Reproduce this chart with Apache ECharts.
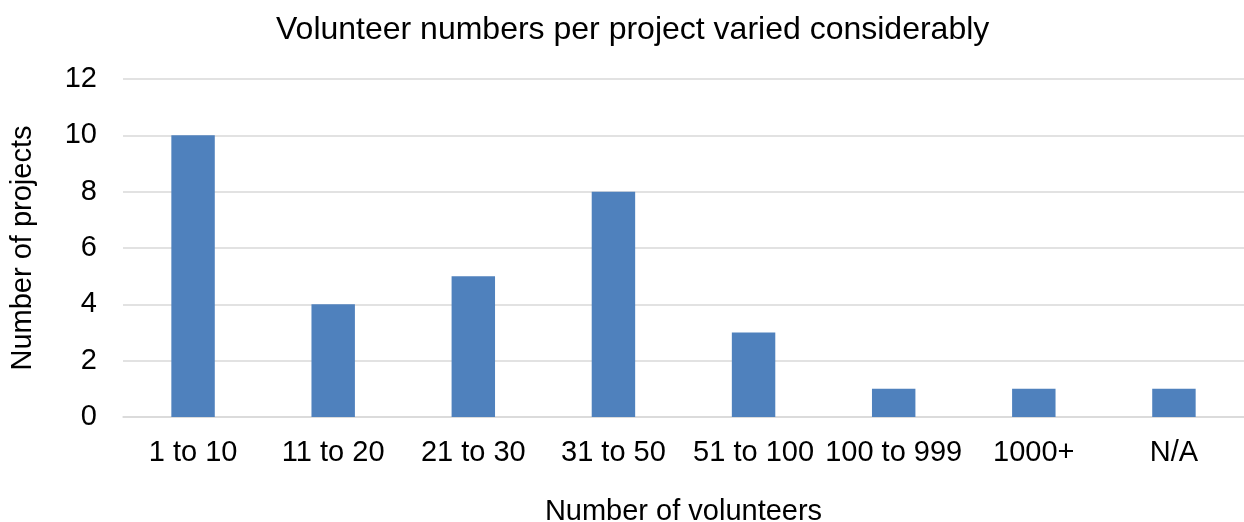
<!DOCTYPE html>
<html>
<head>
<meta charset="utf-8">
<script src="https://cdn.jsdelivr.net/npm/echarts@6/dist/echarts.min.js"></script>
<style>
  html, body { margin: 0; padding: 0; background: #fff; }
  #chart { width: 1244px; height: 522px; }
</style>
</head>
<body>
<div id="chart"></div>
<script>
const categories = ['1 to 10', '11 to 20', '21 to 30', '31 to 50', '51 to 100', '100 to 999', '1000+', 'N/A']
const projects = [10, 4, 5, 8, 3, 1, 1, 1]
const yTicks = [0, 2, 4, 6, 8, 10, 12]

const font = 'Liberation Sans, Arial, sans-serif'
const chart = echarts.init(document.getElementById('chart'))

chart.setOption({
  animation: false,
  title: {
    text: 'Volunteer numbers per project varied considerably',
    left: 276,
    top: 14,
    padding: 0,
    textStyle: { fontFamily: font, fontSize: 32, fontWeight: 'normal', color: '#000' }
  },
  grid: { left: 123, right: 0, top: 79, bottom: 105, outerBoundsMode: 'none' },
  xAxis: {
    type: 'category',
    data: categories,
    name: 'Number of volunteers',
    nameLocation: 'middle',
    nameGap: 80,
    nameTextStyle: { fontFamily: font, fontSize: 29, color: '#000' },
    axisLine: { lineStyle: { color: '#d9d9d9', width: 1.5 } },
    axisTick: { show: false },
    axisLabel: { fontFamily: font, fontSize: 29, color: '#000', margin: 21, interval: 0 }
  },
  yAxis: {
    type: 'value',
    min: yTicks[0],
    max: yTicks[yTicks.length - 1],
    interval: 2,
    name: 'Number of projects',
    nameLocation: 'middle',
    nameGap: 86,
    nameTextStyle: { fontFamily: font, fontSize: 29, color: '#000' },
    axisLine: { show: false },
    axisTick: { show: false },
    splitLine: { lineStyle: { color: '#d9d9d9', width: 1.5 } },
    axisLabel: { fontFamily: font, fontSize: 29, color: '#000', margin: 26 }
  },
  series: [{
    type: 'bar',
    data: projects,
    barWidth: '31%',
    itemStyle: { color: '#4f81bd' }
  }]
})
</script>
</body>
</html>
